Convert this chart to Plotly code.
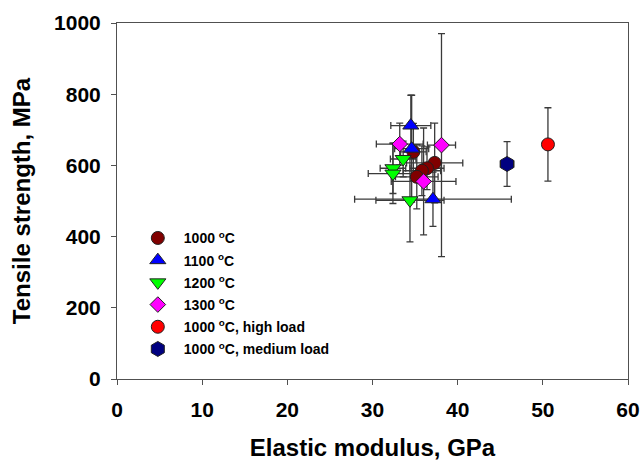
import plotly.graph_objects as go

# series: elastic modulus (GPa), tensile strength (MPa) and their error bars
names = ["1000 <sup>o</sup>C", "1100 <sup>o</sup>C", "1200 <sup>o</sup>C",
         "1300 <sup>o</sup>C", "1000 <sup>o</sup>C, high load",
         "1000 <sup>o</sup>C, medium load"]

x_1000 = [34.8, 37.3, 36.4, 35.8, 35.2]
y_1000 = [638, 607, 592, 585, 568]
xe_1000 = [1.5, 3.3, 2.0, 2.2, 2.5]
ye_1000 = [80, 112, 60, 70, 90]

x_1100 = [34.5, 34.6, 37.1]
y_1100 = [712, 647, 505]
xe_1100 = [2.35, 2.0, 9.2]
ye_1100 = [85, 150, 76]

x_1200 = [33.6, 32.4, 32.4, 34.4]
y_1200 = [618, 592, 577, 502]
xe_1200 = [1.5, 1.5, 2.9, 4.0]
ye_1200 = [50, 71, 84, 117]

x_1300 = [33.2, 38.1, 36.0]
y_1300 = [660, 657, 555]
xe_1300 = [2.75, 1.65, 3.8]
ye_1300 = [59, 313, 150]

x_high = [50.6]
y_high = [659]
xe_high = [0.6]
ye_high = [103]

x_med = [45.8]
y_med = [604]
xe_med = [0.8]
ye_med = [63]

xs = [x_1000, x_1100, x_1200, x_1300, x_high, x_med]
ys = [y_1000, y_1100, y_1200, y_1300, y_high, y_med]
xes = [xe_1000, xe_1100, xe_1200, xe_1300, xe_high, xe_med]
yes = [ye_1000, ye_1100, ye_1200, ye_1300, ye_high, ye_med]

colors = ["#800000", "#0000ff", "#00ff00", "#ff00ff", "#ff0000", "#000080"]
symbols = ["circle", "triangle-up", "triangle-down", "diamond", "circle", "hexagon"]
sizes = [13, 14, 14, 12, 13, 15]

ERR = dict(type="data", color="#3a3a3a", thickness=1.3, width=3.5)
FONT = "Arial, Liberation Sans, sans-serif"

fig = go.Figure()

# error bars first so every marker sits on top of them
for x, y, xe, ye in zip(xs, ys, xes, yes):
    fig.add_trace(go.Scatter(
        x=x, y=y, mode="markers",
        marker=dict(size=1, opacity=0),
        error_x=dict(array=xe, **ERR),
        error_y=dict(array=ye, **ERR),
        showlegend=False, hoverinfo="skip",
    ))

for i, (x, y) in enumerate(zip(xs, ys)):
    fig.add_trace(go.Scatter(
        x=x, y=y, mode="markers", name=names[i], legendgroup=str(i),
        marker=dict(symbol=symbols[i], size=sizes[i], color=colors[i],
                    line=dict(color="#202020", width=1)),
    ))

axis_common = dict(
    showgrid=False, zeroline=False, showline=True, linecolor="#505050",
    linewidth=1, mirror=True, ticks="outside", ticklen=5, tickcolor="#505050",
    automargin=False,
    tickfont=dict(family=FONT, size=21, color="black", weight="bold"),
)

fig.update_layout(
    width=641, height=461,
    margin=dict(l=117, r=13, t=23, b=82),
    paper_bgcolor="white", plot_bgcolor="white",
    xaxis=dict(range=[0, 60], dtick=10, ticklabelstandoff=7,
               title=dict(text="<b>Elastic modulus, GPa</b>", standoff=26,
                          font=dict(family=FONT, size=24, color="black")),
               **axis_common),
    yaxis=dict(range=[0, 1000], dtick=200, ticklabelstandoff=6,
               title=dict(text="<b>Tensile strength, MPa</b>", standoff=16,
                          font=dict(family=FONT, size=24, color="black")),
               **axis_common),
    legend=dict(x=0.029, y=0.44, xanchor="left", yanchor="top",
                bgcolor="rgba(0,0,0,0)", itemwidth=42, tracegroupgap=1,
                font=dict(family=FONT, size=14, color="black", weight="bold")),
)

fig.write_html("out.html", config={"displayModeBar": False},
               post_script="document.body.style.margin = '0';")
